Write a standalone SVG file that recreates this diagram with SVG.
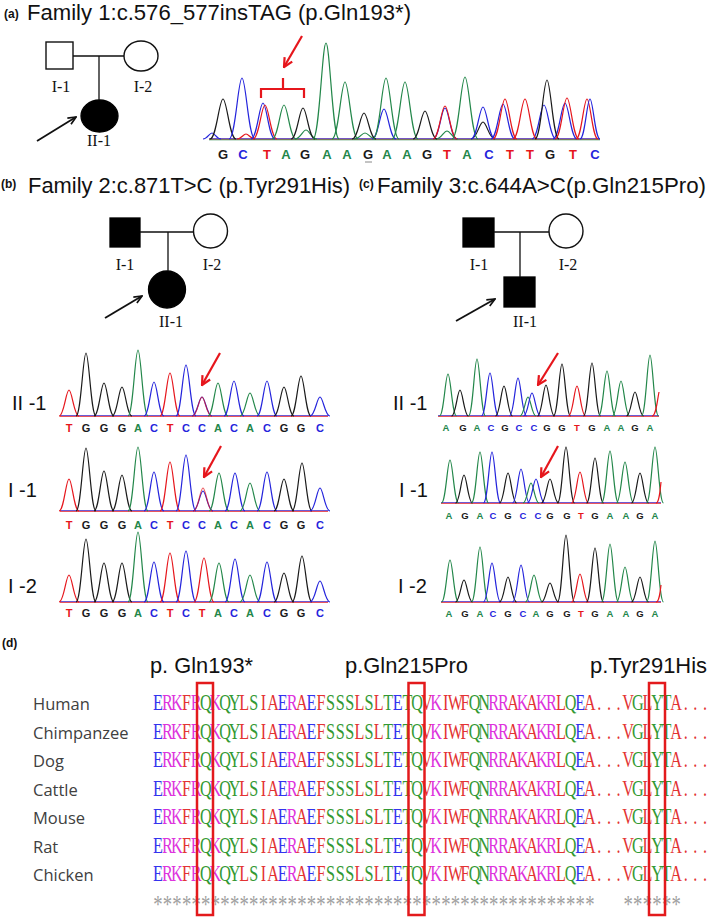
<svg xmlns="http://www.w3.org/2000/svg" width="709" height="920" viewBox="0 0 709 920">
<style>
text{font-family:"Liberation Sans",Arial,sans-serif}
.t{font-size:22px;fill:#111}
.pl{font-size:12px;font-weight:bold;fill:#111}
.pd{font-family:"Liberation Serif","Times New Roman",serif;font-size:16px;fill:#111;text-anchor:middle}
.ln{stroke:#111;stroke-width:1.3;fill:none}
.open{fill:#fff;stroke:#111;stroke-width:1.4}
.aff{fill:#000;stroke:#000;stroke-width:1.3}
.pa{stroke:#111;stroke-width:1.9;fill:none}
use.k{stroke:#1a1a1a}use.b{stroke:#2424dc}use.r{stroke:#e6161c}use.g{stroke:#23874a}
.bl{font-weight:bold;text-anchor:middle}
.lk{fill:#1a1a1a}.lb{fill:#2424dc}.lr{fill:#e6161c}.lg{fill:#23874a}
.sl{font-size:20px;fill:#111}
.sp{font-family:"Open Sans","Liberation Sans",sans-serif;font-size:16.5px;fill:#404040}
.aa{font-family:"Liberation Serif","Times New Roman",serif;font-size:22.5px;text-anchor:middle}
.B{fill:#3333ee}.M{fill:#dd33dd}.R{fill:#e33333}.G{fill:#339933}
.box{fill:none;stroke:#e31a1c;stroke-width:2.5}
.arr{stroke:#e6161c;stroke-width:2.2;fill:none}
.bs{fill:none;stroke-width:0.8}
</style>
<defs>
<path id="p" d="M-1,0 C-0.5,0 -0.3,-1 0,-1 C0.3,-1 0.5,0 1,0" fill="none" stroke-width="1.2" stroke-linejoin="round" vector-effect="non-scaling-stroke"/>
<marker id="mr" viewBox="0 0 10 10" refX="9" refY="5" markerWidth="11" markerHeight="11" markerUnits="userSpaceOnUse" orient="auto"><path d="M1,1 L9,5 L1,9" fill="none" stroke="#e6161c" stroke-width="2"/></marker>
<marker id="mk" viewBox="0 0 10 10" refX="9" refY="5" markerWidth="10" markerHeight="10" markerUnits="userSpaceOnUse" orient="auto"><path d="M1,1.5 L9,5 L1,8.5" fill="none" stroke="#111" stroke-width="1.7"/></marker>
<text id="seq" class="aa" x="6.7 20 33.3 46.7 60 73.3 86.7 100 113.3 126.7 140 153.3 166.7 180 193.3 206.7 220 233.3 246.7 260 273.3 286.7 300 313.3 326.7 340 353.3 366.7 380 393.3 406.7 420 433.3 446.7 460 473.3 486.7 500 513.3 526.7 540 553.3 566.7 580 593.3 606.7 620 633.3 646.7 660 673.3 686.7 700 713.3 726.7 740 753.3 766.7" y="0"><tspan class="B">E</tspan><tspan class="M">RK</tspan><tspan class="R">F</tspan><tspan class="M">R</tspan><tspan class="G">Q</tspan><tspan class="M">K</tspan><tspan class="G">QY</tspan><tspan class="R">L</tspan><tspan class="G">S</tspan><tspan class="R">IA</tspan><tspan class="B">E</tspan><tspan class="M">R</tspan><tspan class="R">A</tspan><tspan class="B">E</tspan><tspan class="R">F</tspan><tspan class="G">SSS</tspan><tspan class="R">L</tspan><tspan class="G">S</tspan><tspan class="R">L</tspan><tspan class="G">T</tspan><tspan class="B">E</tspan><tspan class="G">TQ</tspan><tspan class="R">V</tspan><tspan class="M">K</tspan><tspan class="R">IWF</tspan><tspan class="G">QN</tspan><tspan class="M">RR</tspan><tspan class="R">A</tspan><tspan class="M">K</tspan><tspan class="R">A</tspan><tspan class="M">KR</tspan><tspan class="R">L</tspan><tspan class="G">Q</tspan><tspan class="B">E</tspan><tspan class="R">A...V</tspan><tspan class="G">G</tspan><tspan class="R">L</tspan><tspan class="G">YT</tspan><tspan class="R">A...</tspan></text>
</defs>
<rect width="709" height="920" fill="#fff"/>

<!-- Panel a -->
<g id="panel-a">
<text class="pl" x="4" y="18">(a)</text>
<text class="t" x="27" y="20" textLength="384" lengthAdjust="spacingAndGlyphs">Family 1:c.576_577insTAG (p.Gln193*)</text>
<g id="a-I-1"><rect class="open" x="46" y="42" width="27" height="27"/><text class="pd" x="61" y="92">I-1</text></g>
<g id="a-I-2"><ellipse class="open" cx="141" cy="56" rx="17" ry="15"/><text class="pd" x="143" y="92">I-2</text></g>
<g id="a-II-1"><ellipse class="aff" cx="99.5" cy="116" rx="18.5" ry="16"/><text class="pd" x="99" y="146">II-1</text></g>
<g id="a-links"><path class="ln" d="M73,56 H124 M99,56 V100"/><line class="pa" x1="37" y1="141" x2="76" y2="117" marker-end="url(#mk)"/></g>
<g id="a-chrom">
<path class="bs" stroke="#2424dc" d="M209,138.6 H600"/><path class="bs" stroke="#e6161c" d="M209,139.3 H600"/><path class="bs" stroke="#23874a" d="M209,139.8 H600"/>
<use href="#p" class="b" transform="translate(212 139) scale(9 6)"/>
<use href="#p" class="r" transform="translate(246 139) scale(9 5)"/>
<use href="#p" class="g" transform="translate(306 139) scale(11 9)"/>
<use href="#p" class="g" transform="translate(365 139) scale(11 6)"/>
<use href="#p" class="b" transform="translate(384 139) scale(12 30)"/>
<use href="#p" class="g" transform="translate(447 139) scale(11 8)"/>
<use href="#p" class="k" transform="translate(483 139) scale(12 17)"/>
<use href="#p" class="b" transform="translate(263 139) scale(12 36)"/>
<use href="#p" class="b" transform="translate(445 139) scale(12 31)"/>
<use href="#p" class="b" transform="translate(503 139) scale(12 35)"/>
<use href="#p" class="b" transform="translate(544 139) scale(12 34)"/>
<use href="#p" class="b" transform="translate(565 139) scale(12 36)"/>
<use href="#p" class="k" transform="translate(223 139) scale(13 40)"/>
<use href="#p" class="b" transform="translate(242 139) scale(13 61)"/>
<use href="#p" class="r" transform="translate(265 139) scale(12 34)"/>
<use href="#p" class="g" transform="translate(284 139) scale(12 34)"/>
<use href="#p" class="k" transform="translate(303 139) scale(12 31)"/>
<use href="#p" class="g" transform="translate(326 139) scale(13 96)"/>
<use href="#p" class="g" transform="translate(345 139) scale(13 57)"/>
<use href="#p" class="k" transform="translate(364 139) scale(12 26)"/>
<use href="#p" class="g" transform="translate(386 139) scale(13 61)"/>
<use href="#p" class="g" transform="translate(405 139) scale(13 57)"/>
<use href="#p" class="k" transform="translate(425 139) scale(12 28)"/>
<use href="#p" class="r" transform="translate(445 139) scale(12 33)"/>
<use href="#p" class="g" transform="translate(465 139) scale(13 62)"/>
<use href="#p" class="b" transform="translate(483 139) scale(12 32)"/>
<use href="#p" class="r" transform="translate(505 139) scale(12 40)"/>
<use href="#p" class="r" transform="translate(525 139) scale(12 40)"/>
<use href="#p" class="k" transform="translate(547 139) scale(12 59)"/>
<use href="#p" class="r" transform="translate(567 139) scale(12 41)"/>
<use href="#p" class="r" transform="translate(587 139) scale(11 40)"/>
<use href="#p" class="b" transform="translate(590 139) scale(10 40)"/>
<path class="arr" d="M261,98 V89 H304 V98 M283,89 V78" stroke-width="1.5"/>
<line class="arr" x1="302" y1="36" x2="284" y2="67" marker-end="url(#mr)"/>
<g font-size="13">
<text class="bl lk" x="223" y="158.5">G</text><text class="bl lb" x="243" y="158.5">C</text><text class="bl lr" x="267" y="158.5">T</text><text class="bl lg" x="286" y="158.5">A</text><text class="bl lk" x="305" y="158.5">G</text><text class="bl lg" x="327" y="158.5">A</text><text class="bl lg" x="347" y="158.5">A</text><text class="bl lk" x="368" y="158.5">G</text><text class="bl lg" x="387" y="158.5">A</text><text class="bl lg" x="407" y="158.5">A</text><text class="bl lk" x="427" y="158.5">G</text><text class="bl lr" x="447" y="158.5">T</text><text class="bl lg" x="467" y="158.5">A</text><text class="bl lb" x="489" y="158.5">C</text><text class="bl lr" x="510" y="158.5">T</text><text class="bl lr" x="530" y="158.5">T</text><text class="bl lk" x="550" y="158.5">G</text><text class="bl lr" x="573" y="158.5">T</text><text class="bl lb" x="595" y="158.5">C</text>
</g>
<path d="M365,162 H372" stroke="#888" stroke-width="1"/>
</g>
</g>

<!-- Panel b -->
<g id="panel-b">
<text class="pl" x="1" y="188">(b)</text>
<text class="t" x="28" y="193" textLength="322" lengthAdjust="spacingAndGlyphs">Family 2:c.871T&gt;C (p.Tyr291His)</text>
<g id="b-I-1"><rect class="aff" x="110" y="218" width="30" height="29"/><text class="pd" x="125" y="270">I-1</text></g>
<g id="b-I-2"><ellipse class="open" cx="210.5" cy="231" rx="17" ry="17"/><text class="pd" x="212" y="270">I-2</text></g>
<g id="b-II-1"><ellipse class="aff" cx="167" cy="289.5" rx="18.5" ry="18.5"/><text class="pd" x="171" y="327">II-1</text></g>
<g id="b-links"><path class="ln" d="M140,232 H193.5 M168,232 V271"/><line class="pa" x1="105" y1="318" x2="142" y2="296" marker-end="url(#mk)"/></g>
<g id="b-chrom">
<text class="sl" x="12" y="410">II -1</text>
<text class="sl" x="8" y="497">I -1</text>
<text class="sl" x="8" y="593">I -2</text>
<path class="bs" stroke="#2424dc" d="M60,415.6 H328 M60,510.6 H328 M60,601.6 H328"/><path class="bs" stroke="#e6161c" d="M60,416.4 H328 M60,511.4 H328 M60,602.4 H328"/>
<use href="#p" class="r" transform="translate(69 416) scale(10 26)"/>
<use href="#p" class="k" transform="translate(86 416) scale(10 63)"/>
<use href="#p" class="k" transform="translate(104 416) scale(10 33)"/>
<use href="#p" class="k" transform="translate(122 416) scale(10 29)"/>
<use href="#p" class="g" transform="translate(138 416) scale(10 66)"/>
<use href="#p" class="b" transform="translate(154 416) scale(10 34)"/>
<use href="#p" class="r" transform="translate(170 416) scale(10 43)"/>
<use href="#p" class="b" transform="translate(186 416) scale(10 51)"/>
<use href="#p" class="b" transform="translate(202 416) scale(10 19)"/>
<use href="#p" class="r" transform="translate(202 416) scale(9.5 19)" style="opacity:0.7"/>
<use href="#p" class="g" transform="translate(218 416) scale(10 33)"/>
<use href="#p" class="b" transform="translate(234 416) scale(10 35)"/>
<use href="#p" class="g" transform="translate(250 416) scale(10 23)"/>
<use href="#p" class="b" transform="translate(267 416) scale(10 35)"/>
<use href="#p" class="k" transform="translate(284 416) scale(10 29)"/>
<use href="#p" class="k" transform="translate(301 416) scale(10 40)"/>
<use href="#p" class="b" transform="translate(320 416) scale(10 19)"/>
<line class="arr" x1="220" y1="353" x2="202" y2="385" marker-end="url(#mr)"/>
<use href="#p" class="r" transform="translate(69 511) scale(10 32)"/>
<use href="#p" class="k" transform="translate(86 511) scale(10 63)"/>
<use href="#p" class="k" transform="translate(104 511) scale(10 40)"/>
<use href="#p" class="k" transform="translate(122 511) scale(10 36)"/>
<use href="#p" class="g" transform="translate(138 511) scale(10 64)"/>
<use href="#p" class="b" transform="translate(154 511) scale(10 39)"/>
<use href="#p" class="r" transform="translate(170 511) scale(10 49)"/>
<use href="#p" class="b" transform="translate(186 511) scale(10 56)"/>
<use href="#p" class="b" transform="translate(203 511) scale(10 20)"/>
<use href="#p" class="r" transform="translate(203 511) scale(9.5 23)" style="opacity:0.7"/>
<use href="#p" class="g" transform="translate(219 511) scale(10 38)"/>
<use href="#p" class="b" transform="translate(235 511) scale(10 38)"/>
<use href="#p" class="g" transform="translate(250 511) scale(10 28)"/>
<use href="#p" class="b" transform="translate(267 511) scale(10 39)"/>
<use href="#p" class="k" transform="translate(284 511) scale(10 32)"/>
<use href="#p" class="k" transform="translate(302 511) scale(10 48)"/>
<use href="#p" class="b" transform="translate(320 511) scale(10 23)"/>
<line class="arr" x1="221" y1="446" x2="204" y2="477" marker-end="url(#mr)"/>
<use href="#p" class="r" transform="translate(69 602) scale(10 27)"/>
<use href="#p" class="k" transform="translate(86 602) scale(10 63)"/>
<use href="#p" class="k" transform="translate(104 602) scale(10 39)"/>
<use href="#p" class="k" transform="translate(122 602) scale(10 39)"/>
<use href="#p" class="g" transform="translate(138 602) scale(10 70)"/>
<use href="#p" class="b" transform="translate(154 602) scale(10 40)"/>
<use href="#p" class="r" transform="translate(170 602) scale(10 49)"/>
<use href="#p" class="b" transform="translate(186 602) scale(10 51)"/>
<use href="#p" class="r" transform="translate(204 602) scale(10 44)"/>
<use href="#p" class="g" transform="translate(219 602) scale(10 39)"/>
<use href="#p" class="b" transform="translate(235 602) scale(10 43)"/>
<use href="#p" class="g" transform="translate(250 602) scale(10 27)"/>
<use href="#p" class="b" transform="translate(267 602) scale(10 40)"/>
<use href="#p" class="k" transform="translate(284 602) scale(10 29)"/>
<use href="#p" class="k" transform="translate(302 602) scale(10 46)"/>
<use href="#p" class="b" transform="translate(320 602) scale(10 21)"/>
<g font-size="11">
<text class="bl lr" x="69" y="432">T</text><text class="bl lk" x="86" y="432">G</text><text class="bl lk" x="104" y="432">G</text><text class="bl lk" x="122" y="432">G</text><text class="bl lg" x="138" y="432">A</text><text class="bl lb" x="154" y="432">C</text><text class="bl lr" x="170" y="432">T</text><text class="bl lb" x="186" y="432">C</text><text class="bl lb" x="202" y="432">C</text><text class="bl lg" x="218" y="432">A</text><text class="bl lb" x="234" y="432">C</text><text class="bl lg" x="250" y="432">A</text><text class="bl lb" x="267" y="432">C</text><text class="bl lk" x="284" y="432">G</text><text class="bl lk" x="301" y="432">G</text><text class="bl lb" x="320" y="432">C</text>
<text class="bl lr" x="69" y="529">T</text><text class="bl lk" x="86" y="529">G</text><text class="bl lk" x="104" y="529">G</text><text class="bl lk" x="122" y="529">G</text><text class="bl lg" x="138" y="529">A</text><text class="bl lb" x="154" y="529">C</text><text class="bl lr" x="170" y="529">T</text><text class="bl lb" x="186" y="529">C</text><text class="bl lb" x="202" y="529">C</text><text class="bl lg" x="218" y="529">A</text><text class="bl lb" x="234" y="529">C</text><text class="bl lg" x="250" y="529">A</text><text class="bl lb" x="267" y="529">C</text><text class="bl lk" x="284" y="529">G</text><text class="bl lk" x="301" y="529">G</text><text class="bl lb" x="320" y="529">C</text>
<text class="bl lr" x="69" y="617">T</text><text class="bl lk" x="86" y="617">G</text><text class="bl lk" x="104" y="617">G</text><text class="bl lk" x="122" y="617">G</text><text class="bl lg" x="138" y="617">A</text><text class="bl lb" x="154" y="617">C</text><text class="bl lr" x="170" y="617">T</text><text class="bl lb" x="186" y="617">C</text><text class="bl lr" x="202" y="617">T</text><text class="bl lg" x="218" y="617">A</text><text class="bl lb" x="234" y="617">C</text><text class="bl lg" x="250" y="617">A</text><text class="bl lb" x="267" y="617">C</text><text class="bl lk" x="284" y="617">G</text><text class="bl lk" x="301" y="617">G</text><text class="bl lb" x="320" y="617">C</text>
</g>
</g>
</g>

<!-- Panel c -->
<g id="panel-c">
<text class="pl" x="359" y="188">(c)</text>
<text class="t" x="377" y="193" textLength="329" lengthAdjust="spacingAndGlyphs">Family 3:c.644A&gt;C(p.Gln215Pro)</text>
<g id="c-I-1"><rect class="aff" x="463" y="218" width="31" height="29"/><text class="pd" x="479" y="270">I-1</text></g>
<g id="c-I-2"><ellipse class="open" cx="566" cy="231" rx="17" ry="17"/><text class="pd" x="568" y="270">I-2</text></g>
<g id="c-II-1"><rect class="aff" x="504" y="277" width="31" height="30"/><text class="pd" x="525" y="327">II-1</text></g>
<g id="c-links"><path class="ln" d="M494,232 H549 M520,232 V277"/><line class="pa" x1="456" y1="321" x2="495" y2="299" marker-end="url(#mk)"/></g>
<g id="c-chrom">
<text class="sl" x="393" y="410">II -1</text>
<text class="sl" x="399" y="497">I -1</text>
<text class="sl" x="398" y="593">I -2</text>
<path class="bs" stroke="#2424dc" d="M438,415.6 H659 M441,502.6 H661 M441,601.6 H661"/><path class="bs" stroke="#e6161c" d="M438,416.4 H659 M441,503.4 H661 M441,602.4 H661"/>
<use href="#p" class="g" transform="translate(448 416) scale(8.5 42)"/>
<use href="#p" class="k" transform="translate(460 416) scale(8.5 26)"/>
<use href="#p" class="g" transform="translate(477 416) scale(8.5 57)"/>
<use href="#p" class="b" transform="translate(490 416) scale(8.5 43)"/>
<use href="#p" class="k" transform="translate(504 416) scale(8.5 30)"/>
<use href="#p" class="b" transform="translate(518 416) scale(8.5 38)"/>
<use href="#p" class="g" transform="translate(528 416) scale(8 19)"/>
<use href="#p" class="b" transform="translate(532 416) scale(8.5 23)"/>
<use href="#p" class="k" transform="translate(546 416) scale(8.5 31)"/>
<use href="#p" class="k" transform="translate(562 416) scale(8.5 52)"/>
<use href="#p" class="r" transform="translate(577 416) scale(8.5 30)"/>
<use href="#p" class="k" transform="translate(592 416) scale(8.5 53)"/>
<use href="#p" class="g" transform="translate(607 416) scale(8.5 45)"/>
<use href="#p" class="g" transform="translate(621 416) scale(8.5 35)"/>
<use href="#p" class="k" transform="translate(635 416) scale(8.5 24)"/>
<use href="#p" class="g" transform="translate(650 416) scale(8.5 61)"/>
<path d="M652,416 C656,416 657,402 659,392" fill="none" stroke="#e6161c" stroke-width="1.2"/>
<line class="arr" x1="558" y1="353" x2="538" y2="385" marker-end="url(#mr)"/>
<use href="#p" class="g" transform="translate(450 503) scale(8.5 43)"/>
<use href="#p" class="k" transform="translate(464 503) scale(8.5 28)"/>
<use href="#p" class="g" transform="translate(480 503) scale(8.5 51)"/>
<use href="#p" class="b" transform="translate(492 503) scale(8.5 51)"/>
<use href="#p" class="k" transform="translate(508 503) scale(8.5 30)"/>
<use href="#p" class="b" transform="translate(521 503) scale(8.5 34)"/>
<use href="#p" class="g" transform="translate(531 503) scale(8 20)"/>
<use href="#p" class="b" transform="translate(536 503) scale(8.5 24)"/>
<use href="#p" class="k" transform="translate(550 503) scale(8.5 24)"/>
<use href="#p" class="k" transform="translate(566 503) scale(8.5 56)"/>
<use href="#p" class="r" transform="translate(580 503) scale(8.5 31)"/>
<use href="#p" class="k" transform="translate(595 503) scale(8.5 45)"/>
<use href="#p" class="g" transform="translate(610 503) scale(8.5 52)"/>
<use href="#p" class="g" transform="translate(625 503) scale(8.5 41)"/>
<use href="#p" class="k" transform="translate(640 503) scale(8.5 30)"/>
<use href="#p" class="g" transform="translate(655 503) scale(8.5 56)"/>
<path d="M656,503 C659,503 660,492 661,482" fill="none" stroke="#e6161c" stroke-width="1.2"/>
<line class="arr" x1="558" y1="446" x2="541" y2="477" marker-end="url(#mr)"/>
<use href="#p" class="g" transform="translate(450 602) scale(8.5 42)"/>
<use href="#p" class="k" transform="translate(464 602) scale(8.5 22)"/>
<use href="#p" class="g" transform="translate(480 602) scale(8.5 55)"/>
<use href="#p" class="b" transform="translate(492 602) scale(8.5 39)"/>
<use href="#p" class="k" transform="translate(508 602) scale(8.5 25)"/>
<use href="#p" class="b" transform="translate(521 602) scale(8.5 37)"/>
<use href="#p" class="g" transform="translate(534 602) scale(8.5 27)"/>
<use href="#p" class="k" transform="translate(550 602) scale(8.5 19)"/>
<use href="#p" class="k" transform="translate(566 602) scale(8.5 67)"/>
<use href="#p" class="r" transform="translate(580 602) scale(8.5 28)"/>
<use href="#p" class="k" transform="translate(595 602) scale(8.5 54)"/>
<use href="#p" class="g" transform="translate(610 602) scale(8.5 58)"/>
<use href="#p" class="g" transform="translate(625 602) scale(8.5 35)"/>
<use href="#p" class="k" transform="translate(640 602) scale(8.5 25)"/>
<use href="#p" class="g" transform="translate(655 602) scale(8.5 61)"/>
<path d="M656,602 C659,602 660,594 661,585" fill="none" stroke="#e6161c" stroke-width="1.2"/>
<g font-size="9.5">
<text class="bl lg" x="446" y="431">A</text><text class="bl lk" x="463" y="431">G</text><text class="bl lg" x="477" y="431">A</text><text class="bl lb" x="491" y="431">C</text><text class="bl lk" x="505" y="431">G</text><text class="bl lb" x="519" y="431">C</text><text class="bl lb" x="534" y="431">C</text><text class="bl lk" x="547" y="431">G</text><text class="bl lk" x="562" y="431">G</text><text class="bl lr" x="577" y="431">T</text><text class="bl lk" x="592" y="431">G</text><text class="bl lg" x="607" y="431">A</text><text class="bl lg" x="621" y="431">A</text><text class="bl lk" x="635" y="431">G</text><text class="bl lg" x="650" y="431">A</text>
<text class="bl lg" x="449" y="519">A</text><text class="bl lk" x="465" y="519">G</text><text class="bl lg" x="480" y="519">A</text><text class="bl lb" x="493" y="519">C</text><text class="bl lk" x="508" y="519">G</text><text class="bl lb" x="523" y="519">C</text><text class="bl lb" x="538" y="519">C</text><text class="bl lk" x="550" y="519">G</text><text class="bl lk" x="567" y="519">G</text><text class="bl lr" x="581" y="519">T</text><text class="bl lk" x="595" y="519">G</text><text class="bl lg" x="610" y="519">A</text><text class="bl lg" x="626" y="519">A</text><text class="bl lk" x="640" y="519">G</text><text class="bl lg" x="655" y="519">A</text>
<text class="bl lg" x="449" y="617">A</text><text class="bl lk" x="465" y="617">G</text><text class="bl lg" x="480" y="617">A</text><text class="bl lb" x="493" y="617">C</text><text class="bl lk" x="508" y="617">G</text><text class="bl lb" x="523" y="617">C</text><text class="bl lg" x="536" y="617">A</text><text class="bl lk" x="550" y="617">G</text><text class="bl lk" x="567" y="617">G</text><text class="bl lr" x="581" y="617">T</text><text class="bl lk" x="595" y="617">G</text><text class="bl lg" x="610" y="617">A</text><text class="bl lg" x="626" y="617">A</text><text class="bl lk" x="640" y="617">G</text><text class="bl lg" x="655" y="617">A</text>
</g>
</g>
</g>

<!-- Panel d -->
<g id="panel-d">
<text class="pl" x="2" y="647">(d)</text>
<text class="t" x="150" y="673" textLength="103" lengthAdjust="spacingAndGlyphs">p. Gln193*</text>
<text class="t" x="345" y="673" textLength="123" lengthAdjust="spacingAndGlyphs">p.Gln215Pro</text>
<text class="t" x="590" y="673" textLength="117" lengthAdjust="spacingAndGlyphs">p.Tyr291His</text>
<text class="sp" x="33" y="710">Human</text>
<text class="sp" x="33" y="738.5">Chimpanzee</text>
<text class="sp" x="33" y="767">Dog</text>
<text class="sp" x="33" y="795.5">Cattle</text>
<text class="sp" x="33" y="824">Mouse</text>
<text class="sp" x="33" y="852.5">Rat</text>
<text class="sp" x="33" y="881">Chicken</text>
<use href="#seq" transform="translate(153 710) scale(0.72 1)"/>
<use href="#seq" transform="translate(153 738.5) scale(0.72 1)"/>
<use href="#seq" transform="translate(153 767) scale(0.72 1)"/>
<use href="#seq" transform="translate(153 795.5) scale(0.72 1)"/>
<use href="#seq" transform="translate(153 824) scale(0.72 1)"/>
<use href="#seq" transform="translate(153 852.5) scale(0.72 1)"/>
<use href="#seq" transform="translate(153 881) scale(0.72 1)"/>
<text class="aa" style="font-size:26px;fill:#a0a0a0" transform="translate(153 913) scale(0.72 1)" x="6.7 20 33.3 46.7 60 73.3 86.7 100 113.3 126.7 140 153.3 166.7 180 193.3 206.7 220 233.3 246.7 260 273.3 286.7 300 313.3 326.7 340 353.3 366.7 380 393.3 406.7 420 433.3 446.7 460 473.3 486.7 500 513.3 526.7 540 553.3 566.7 580 593.3 606.7 660 673.3 686.7 700 713.3 726.7" y="0">****************************************************</text>
<rect class="box" x="197" y="683" width="16" height="232"/>
<rect class="box" x="408.5" y="683" width="16" height="232"/>
<rect class="box" x="649" y="683" width="16" height="232"/>
</g>
</svg>
